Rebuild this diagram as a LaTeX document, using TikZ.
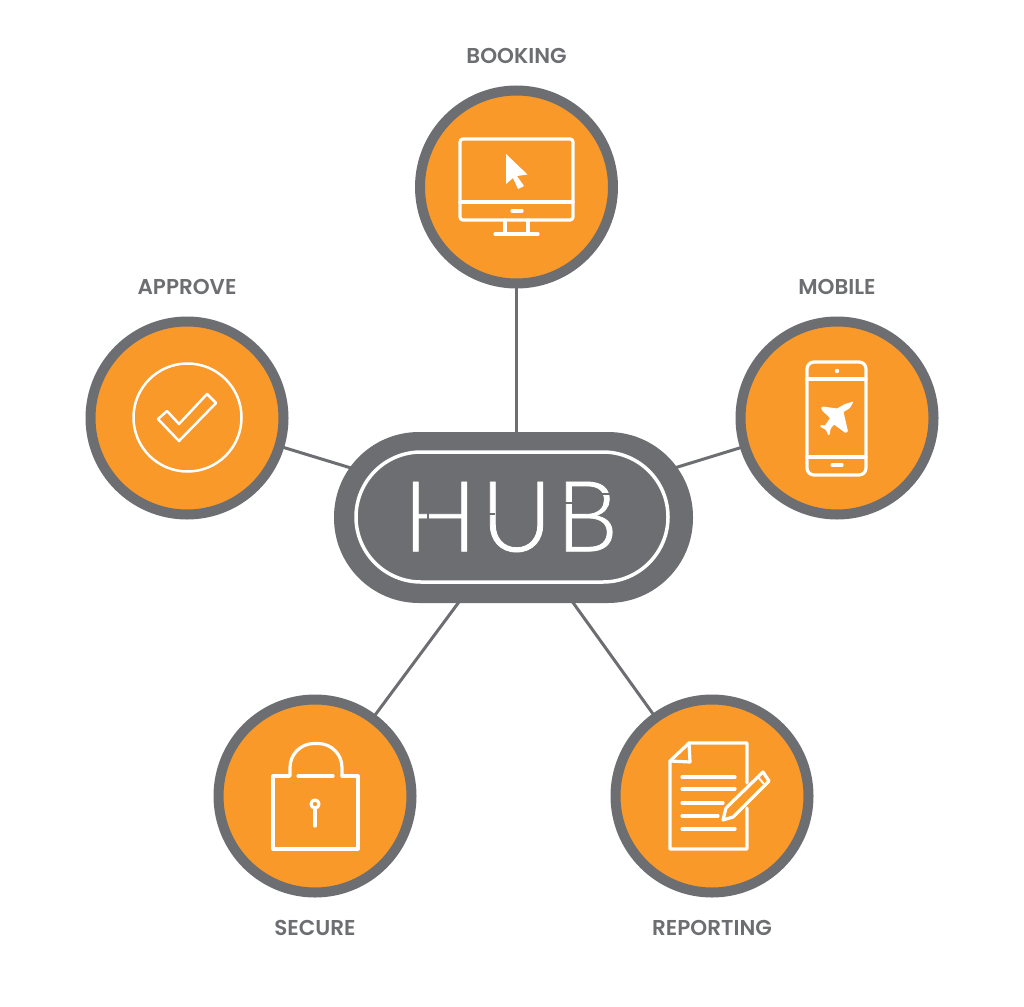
\documentclass[tikz,border=0pt]{standalone}
\usepackage{fontspec}
\setmainfont{Poppins SemiBold}
\newfontfamily\hubfont[LetterSpace=4,FakeBold=0.8]{Lato Light}
\usetikzlibrary{backgrounds}
\definecolor{hubgray}{HTML}{6D6E71}
\definecolor{huborange}{HTML}{F9992A}
\tikzstyle{service} = [circle, minimum size=193pt, inner sep=0pt, line width=10pt, draw=hubgray, fill=huborange]
\tikzstyle{title} = [text=hubgray, font=\fontsize{21.5}{24}\selectfont, inner sep=0pt]
\tikzstyle{link} = [draw=hubgray, line width=3pt]
\tikzstyle{icon} = [draw=white, line width=3.2pt, line cap=round, line join=round]
\tikzstyle{cut} = [draw=hubgray, line width=2.5pt]

\begin{document}
\begin{tikzpicture}[x=1pt, y=-1pt, node distance=131pt]
  \useasboundingbox (0,0) rectangle (1024,1006);
  \node (booking) [service] at (516.5,187) {};
  \node (approve) [service] at (187,418) {};
  \node (mobile) [service] at (837,418) {};
  \node (secure) [service] at (315,796) {};
  \node (reporting) [service] at (712,796) {};
  \node (hub) [rectangle, rounded corners=85pt, minimum width=359pt, minimum height=171pt, fill=hubgray] at (513.5,517.5) {};
  \node (ring) [rectangle, rounded corners=65pt, minimum width=312pt, minimum height=130pt, draw=white, line width=3.5pt] at (512,517) {};
  \node (hubtext) [text=white, inner sep=0pt, font=\fontsize{98}{98}\selectfont\hubfont] at (510.5,517) {HUB};
  \coordinate (securelink) at (522,517);
  \coordinate (reportinglink) at (511.5,517);

  \node (bookingtext) [title, above of=booking] {BOOKING};
  \node (approvetext) [title, above of=approve] {APPROVE};
  \node (mobiletext) [title, above of=mobile] {MOBILE};
  \node (securetext) [title, below of=secure, yshift=-1pt] {SECURE};
  \node (reportingtext) [title, below of=reporting, yshift=-1pt] {REPORTING};

  \begin{scope}[on background layer]
    \draw[link] (booking.center) -- (booking |- hub.center);
    \draw[link] (approve.center) -- (hub.center);
    \draw[link] (mobile.center) -- (hub.center);
    \draw[link] (secure.center) -- (securelink);
    \draw[link] (reporting.center) -- (reportinglink);
  \end{scope}

  % breaks in the letters
  \draw[cut] (428,510) -- (428,520);
  \draw[cut] (484,514) -- (495,514);
  \draw[cut] (562,503) -- (575,503);
  \draw[cut] (600,494) -- (613,494);

  % monitor
  \draw[icon, rounded corners=3pt] (460,139) rectangle (573,220);
  \draw[icon] (460,202) -- (573,202);
  \draw[icon] (512,211) -- (522,211);
  \draw[icon] (505,220) -- (505,234) (528,220) -- (528,234) (495,234) -- (538,234);
  \fill[white] (506,154) -- (527.5,174.5) -- (517,176) -- (524,186) -- (518,189) -- (513,178) -- (506,184) -- cycle;

  % phone
  \draw[icon, rounded corners=7pt] (807,362) rectangle (866,475);
  \draw[icon] (807,379) -- (866,379) (807,457) -- (866,457);
  \fill[white] (837,371) circle (2.2);
  \draw[icon] (832,465) -- (842,465);
  \fill[white, rounded corners=0.8pt] (853.5,401.5) -- (850,408) -- (843.5,412) -- (848,431.5) -- (845.5,433) -- (834,424.5) -- (830.5,429) -- (829.5,435) -- (828,435) -- (826,430) -- (820,426.5) -- (820.5,425) -- (825,425.5) -- (830,418) -- (822,410.5) -- (821,407.5) -- (823,406.5) -- (837,408.5) -- (845,404) -- cycle;

  % check mark
  \draw[icon, line width=2.5pt] (187.5,417.5) circle (54);
  \draw[icon, line width=2.5pt] (207,394) -- (216,403) -- (179,441) -- (158,419) -- (167,411) -- (179,424) -- cycle;

  % lock
  \draw[icon] (298,776) -- (333,776);
  \draw[icon] (289,776) -- (273,776) -- (273,849) -- (358,849) -- (358,776) -- (342,776);
  \draw[icon, rounded corners=24pt] (290,776) -- (290,743.5) -- (342,743.5) -- (342,776);
  \draw[icon] (315,804) circle (4);
  \draw[icon] (315,809) -- (315,826);

  % document and pencil
  \draw[icon] (747,783) -- (747,743) -- (689,743) -- (670,761) -- (670,849) -- (747,849) -- (747,808);
  \draw[icon] (689,743) -- (690,762) -- (670,761);
  \draw[icon] (682,777) -- (735,777) (682,789) -- (735,789) (682,803) -- (723,803) (682,816) -- (718,816) (682,829) -- (735,829);
  \draw[icon] (723,820) -- (726,808) -- (763,772) -- (769,781) -- (733,817) -- cycle;
  \draw[icon, line width=2pt] (758,777) -- (764,784);
\end{tikzpicture}
\end{document}
